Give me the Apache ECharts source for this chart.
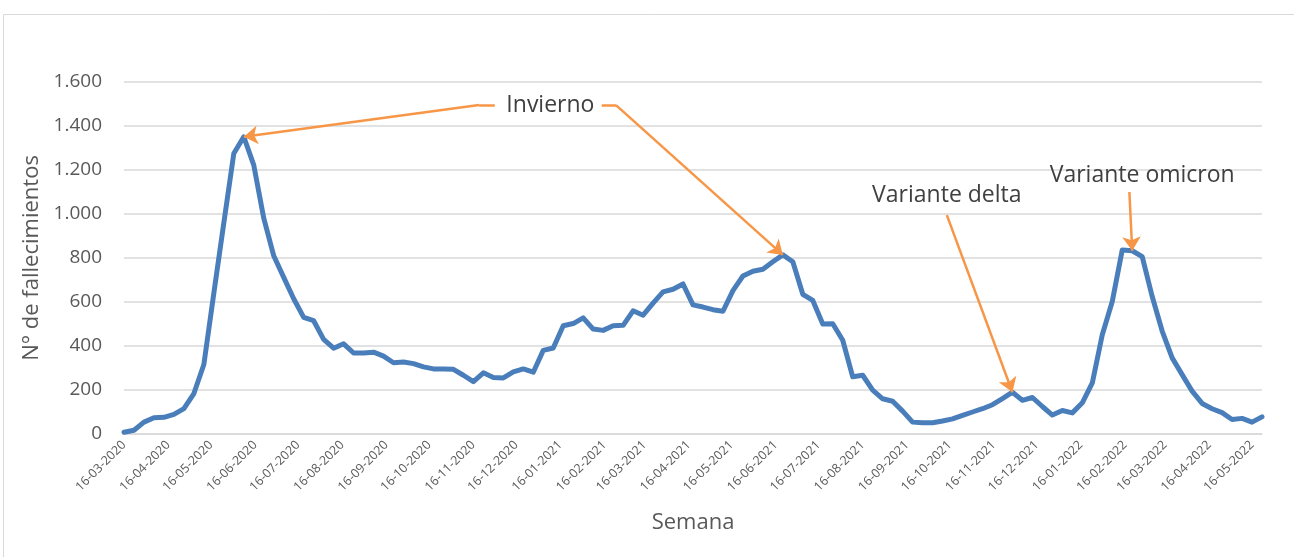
<!DOCTYPE html>
<html>
<head>
<meta charset="utf-8">
<script src="https://cdn.jsdelivr.net/npm/echarts@6/dist/echarts.min.js"></script>
<style>
  html, body { margin: 0; padding: 0; background: #fff; }
  #chart { width: 1294px; height: 557px; }
</style>
</head>
<body>
<div id="chart"></div>
<script>
// primera semana de la serie (lunes), luego una muestra cada 7 días
const firstWeek = '2020-03-16';

// fallecimientos semanales
const deaths = [
  8, 17, 54, 74, 76, 89, 115, 184, 316, 640,
  960, 1275, 1351, 1222, 981, 810, 712, 615, 530, 515,
  430, 390, 410, 368, 368, 372, 354, 324, 327, 320,
  305, 296, 296, 294, 267, 238, 278, 257, 255, 282,
  296, 281, 380, 391, 492, 502, 528, 477, 471, 492,
  494, 560, 540, 595, 646, 658, 682, 587, 577, 565,
  558, 652, 718, 740, 749, 783, 814, 783, 635, 607,
  500, 501, 426, 260, 267, 199, 160, 149, 104, 54,
  51, 51, 59, 69, 85, 100, 115, 133, 161, 190,
  153, 166, 125, 86, 107, 96, 142, 232, 451, 602,
  836, 833, 806, 625, 468, 346, 270, 195, 139, 115,
  97, 66, 71, 54, 78
];

// etiquetas del eje X
const monthTicks = [
  '16-03-2020', '16-04-2020', '16-05-2020', '16-06-2020', '16-07-2020',
  '16-08-2020', '16-09-2020', '16-10-2020', '16-11-2020', '16-12-2020',
  '16-01-2021', '16-02-2021', '16-03-2021', '16-04-2021', '16-05-2021',
  '16-06-2021', '16-07-2021', '16-08-2021', '16-09-2021', '16-10-2021',
  '16-11-2021', '16-12-2021', '16-01-2022', '16-02-2022', '16-03-2022',
  '16-04-2022', '16-05-2022'
];

const yTicks = [0, 200, 400, 600, 800, 1000, 1200, 1400, 1600];

// eje X en días desde la primera semana
const DAY = 86400000;
const t0 = Date.parse(firstWeek + 'T00:00:00Z');

const seriesData = deaths.map((v, i) => [i * 7, v]);

const parseTick = s => {
  const p = s.split('-');
  return Math.round((Date.UTC(+p[2], +p[1] - 1, +p[0]) - t0) / DAY);
};
const tickDays = monthTicks.map(parseTick);

const pad = n => (n < 10 ? '0' : '') + n;
const fmtDay = v => {
  const d = new Date(t0 + v * DAY);
  return pad(d.getUTCDate()) + '-' + pad(d.getUTCMonth() + 1) + '-' + d.getUTCFullYear();
};
const fmtNum = v => String(v).replace(/\B(?=(\d{3})+(?!\d))/g, '.');

// punto de la serie al que apunta cada flecha
const pt = i => seriesData[i];

const arrow = (from, to) => [
  { coord: from, symbol: 'none' },
  { coord: to, symbol: 'arrow', symbolSize: 14 }
];
const plain = (from, to) => [
  { coord: from, symbol: 'none' },
  { coord: to, symbol: 'none' }
];

const chart = echarts.init(document.getElementById('chart'));

chart.setOption({
  animation: false,
  textStyle: { fontFamily: 'Open Sans' },
  graphic: [{
    type: 'rect',
    shape: { x: 3.5, y: 14.5, width: 1320, height: 600 },
    style: { fill: 'none', stroke: '#d9d9d9', lineWidth: 1 },
    silent: true
  }],
  grid: { left: 124, right: 32, top: 82, bottom: 123 },
  xAxis: {
    type: 'value',
    min: 0,
    max: (deaths.length - 1) * 7,
    name: 'Semana',
    nameLocation: 'middle',
    nameGap: 78,
    nameTextStyle: { fontSize: 22, color: '#595959' },
    axisLine: { show: true, lineStyle: { color: '#d9d9d9', width: 1.5 } },
    axisTick: { show: false },
    splitLine: { show: false },
    axisLabel: {
      customValues: tickDays,
      rotate: 45,
      margin: 9,
      fontSize: 12.5,
      color: '#595959',
      formatter: v => fmtDay(v)
    }
  },
  yAxis: {
    type: 'value',
    min: yTicks[0],
    max: yTicks[yTicks.length - 1],
    interval: 200,
    name: 'N° de fallecimientos',
    nameLocation: 'middle',
    nameGap: 80,
    nameTextStyle: { fontSize: 22, color: '#595959' },
    axisLine: { show: false },
    axisTick: { show: false },
    splitLine: { lineStyle: { color: '#d9d9d9', width: 1.5 } },
    axisLabel: {
      margin: 22,
      fontSize: 19,
      color: '#595959',
      formatter: v => fmtNum(v)
    }
  },
  series: [{
    type: 'line',
    data: seriesData,
    showSymbol: false,
    symbol: 'none',
    lineStyle: { color: '#4a7ebb', width: 5, cap: 'round', join: 'round' },
    itemStyle: { color: '#4a7ebb' },
    z: 2,
    markLine: {
      silent: true,
      z: 5,
      label: { show: false },
      emphasis: { disabled: true },
      lineStyle: { color: '#f79646', width: 2.5, type: 'solid' },
      data: [
        plain([260, 1495], [249, 1495]),
        arrow([249, 1495], pt(12)),
        plain([335, 1495], [345, 1495]),
        arrow([345, 1495], pt(66)),
        arrow([577, 995], pt(89)),
        arrow([705, 1100], pt(101))
      ]
    },
    markPoint: {
      silent: true,
      symbol: 'circle',
      symbolSize: 0,
      label: {
        show: true,
        position: 'inside',
        formatter: '{b}',
        fontSize: 23,
        color: '#404040'
      },
      data: [
        { name: 'Invierno', coord: [299, 1495] },
        { name: 'Variante delta', coord: [577, 1083] },
        { name: 'Variante omicron', coord: [714, 1173] }
      ]
    }
  }]
});
</script>
</body>
</html>
